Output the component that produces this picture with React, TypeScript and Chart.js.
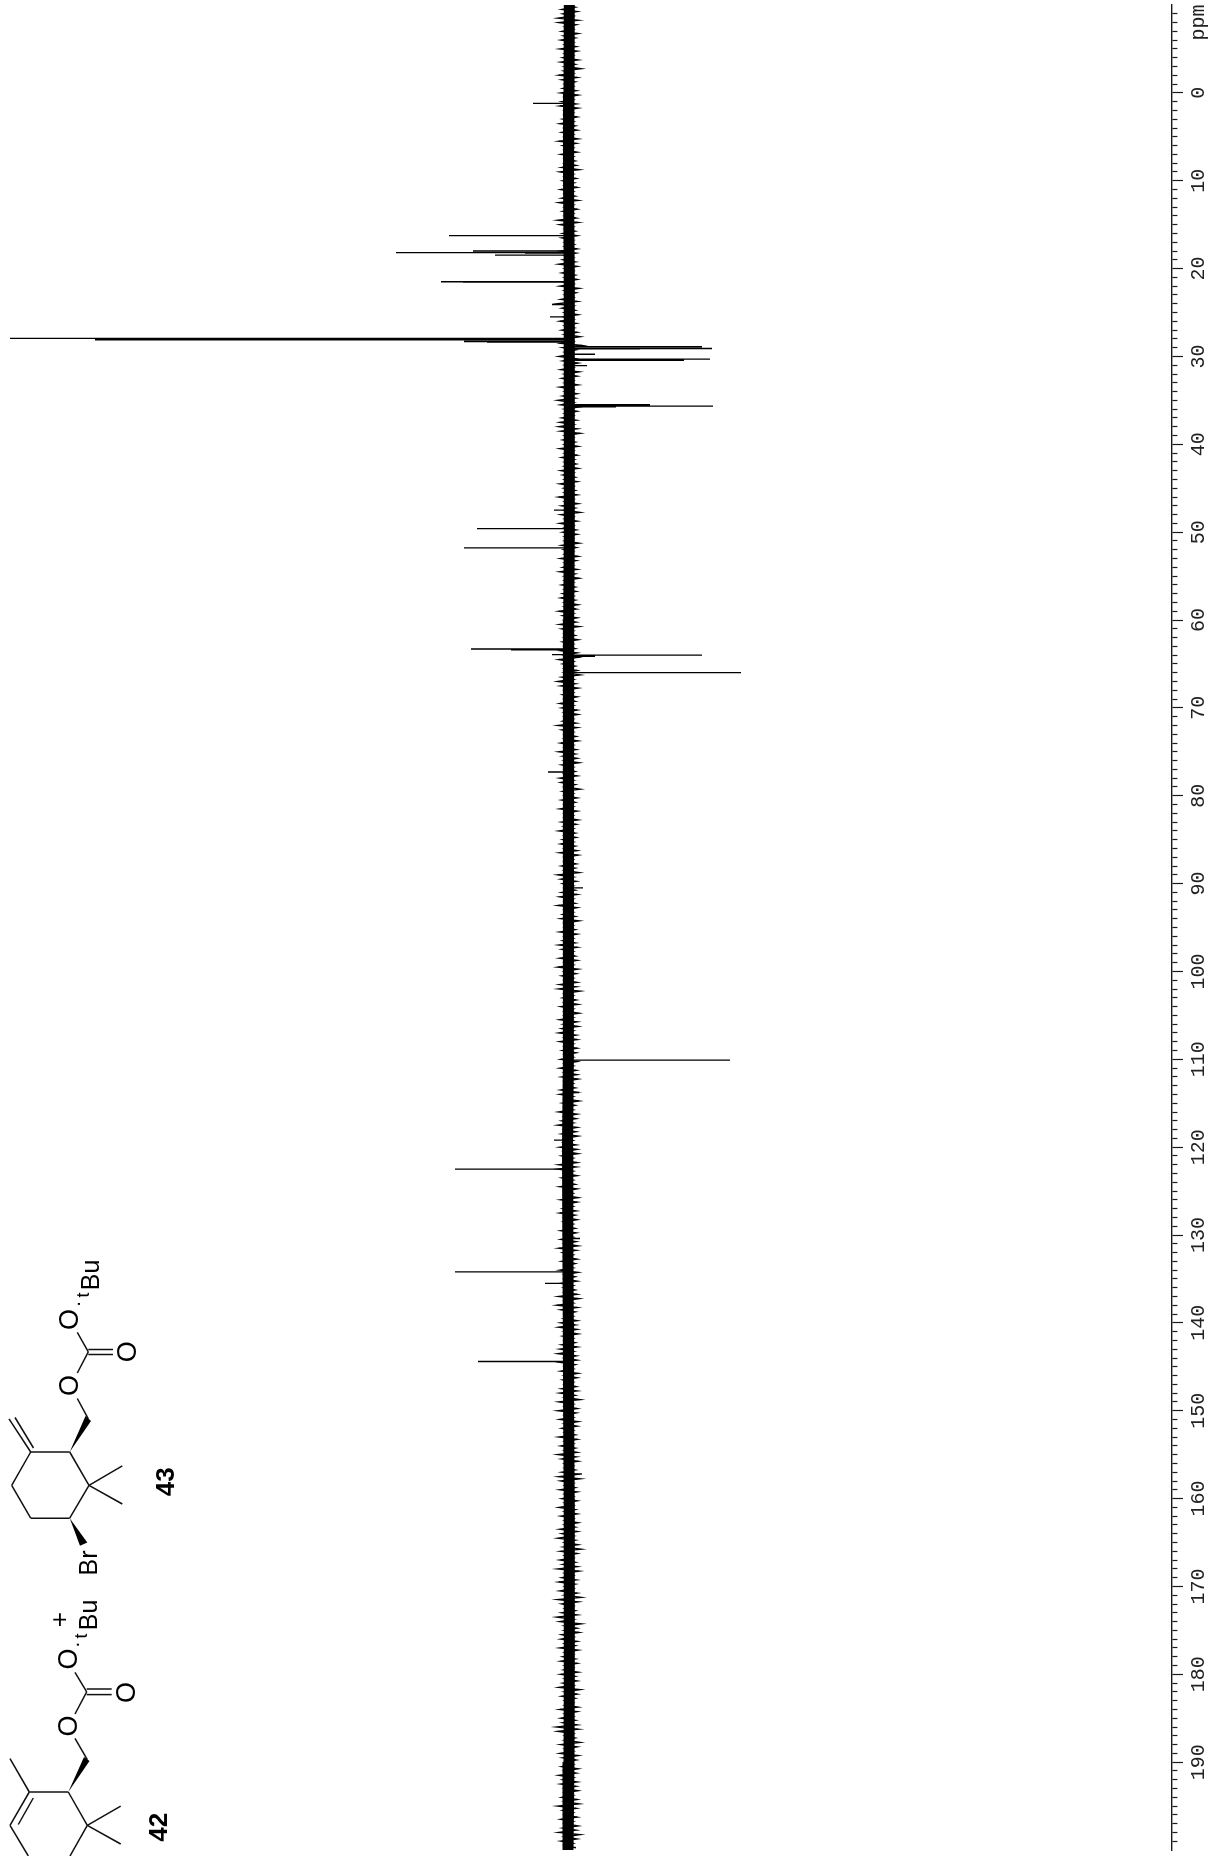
import React, { useEffect, useRef } from "react";
import { Chart, registerables } from "chart.js";

Chart.register(...registerables);

// Spectrum peaks (ppm, intensity: positive up, negative down)
const peakPpm = [1.2, 16.25, 18.0, 18.18, 18.23, 18.46, 21.5, 21.55, 24.1, 25.5, 27.95, 28.1, 28.3, 28.38, 28.9, 29.1, 29.15, 29.75, 30.3, 30.45, 31.05, 35.5, 35.65, 35.75, 47.5, 49.6, 51.8, 63.3, 63.4, 63.95, 64.0, 64.15, 66.0, 77.3, 90.5, 110.1, 113.8, 119.2, 122.5, 130.4, 134.2, 135.5, 144.4, 157.2];
const peakHeight = [35, 119, 95, 172, 43, 73, 127, 105, 16, 18, 558, 473, 104, 81, -134, -144, -72, -27, -142, -116, -19, -82, -145, -48, 14, 91, 104, 97, 57, 16, -134, -27, -173, 20, -15, -162, -11, 14, 113, -12, 113, 23, 90, -14];

// Noise envelope of the baseline, sampled every half ppm from -10 to 200 ppm
const noiseUp = [
  3,6,5,10,9,3,6,4,7,3,8,3,5,7,3,4,9,6,3,5,
  7,3,6,8,3,3,5,8,3,6,3,9,5,3,7,3,3,6,8,3,
  5,3,7,3,6,9,3,5,3,10,8,3,5,6,3,3,7,3,5,9,
  3,6,3,5,8,3,3,7,11,6,3,4,8,3,6,3,3,7,5,3,
  9,5,3,7,3,6,3,8,3,5,10,7,3,3,6,8,9,7,3,5,
  3,8,3,6,3,3,7,5,3,8,4,3,9,3,6,3,7,3,8,3,
  5,3,3,6,4,3,7,3,5,8,3,3,6,3,5,7,3,3,9,5,
  3,8,6,3,3,5,3,7,3,9,5,3,3,6,10,7,3,5,3,8,
  6,3,3,5,10,6,3,3,7,3,9,5,3,6,3,3,8,7,3,5,
  3,6,3,8,3,3,6,4,9,3,5,7,3,8,3,3,6,3,10,7,
  5,3,6,8,3,10,3,5,7,3,3,8,3,5,9,6,3,8,3,10,
  3,6,3,8,9,3,5,3,7,3,3,8,4,6,9,3,8,3,5,3,
  7,3,8,3,6,3,3,7,8,3,5,3,9,3,6,10,3,6,3,4,
  8,3,6,3,9,10,3,6,3,8,3,3,7,3,5,8,3,4,3,7,
  3,7,3,9,5,3,6,3,8,3,3,7,4,3,9,3,11,7,3,4,
  7,9,3,5,3,6,8,10,3,8,3,7,3,5,3,6,8,3,9,3,
  10,3,8,3,6,3,9,3,7,3,10,6,3,3,6,9,7,3,8,3,
  6,3,9,3,7,3,3,8,6,10,3,4,7,3,8,5,10,3,6,9,
  3,8,3,10,6,3,6,11,8,3,3,6,7,3,8,3,5,7,3,4,
  7,3,5,9,3,6,3,3,8,3,7,5,11,10,3,3,7,3,8,5,
  3,6,3,9,5,7,3,3,6,3,10,5,3,7,3,5,9,3,7,3,
];
const noiseDown = [
  7,9,5,10,8,5,10,7,5,8,9,5,10,7,13,5,9,7,5,8,
  10,5,8,10,5,9,5,7,9,5,10,8,5,9,5,7,8,11,5,8,
  6,9,5,7,10,5,9,5,8,10,5,7,9,5,6,9,8,5,7,9,
  5,7,9,5,11,8,5,9,5,7,10,5,8,6,9,12,5,14,8,5,
  7,10,5,11,9,5,10,5,9,7,5,12,9,5,8,5,9,12,5,7,
  10,5,9,6,8,10,5,7,9,5,7,9,5,10,7,12,5,9,5,8,
  9,5,11,8,5,10,8,5,9,7,11,5,7,8,5,7,10,8,5,9,
  8,11,5,7,10,5,7,9,10,5,7,9,12,5,7,10,5,9,7,5,
  9,10,5,8,9,5,8,10,5,8,7,9,11,5,7,9,5,7,12,5,
  9,7,5,9,5,10,8,5,7,8,5,7,9,10,5,8,7,11,5,8,
  5,7,9,5,7,9,5,7,11,5,7,9,5,7,9,5,7,9,5,10,
  8,5,9,8,12,5,8,10,5,11,5,9,10,5,8,9,5,9,8,5,
  9,5,8,9,10,5,7,9,5,11,7,5,9,8,5,9,8,10,5,8,
  9,10,5,9,8,5,9,5,7,9,5,10,9,5,8,7,9,5,7,8,
  5,8,10,8,5,9,7,5,10,7,9,5,7,9,11,5,9,7,5,9,
  7,9,10,5,7,9,5,8,9,7,5,10,9,5,8,9,7,12,5,9,
  8,5,10,9,5,7,9,5,7,9,8,10,5,7,9,12,5,7,9,5,
  9,5,7,9,5,10,7,9,5,7,10,13,9,5,7,9,11,5,8,7,
  5,9,13,10,5,7,9,5,13,9,11,5,9,7,10,5,7,9,5,10,
  7,9,5,12,9,7,5,10,9,5,7,9,10,5,7,12,9,5,10,8,
  5,10,8,5,9,8,10,5,9,11,8,5,9,5,10,8,12,9,5,8,
];

// Solid core of the noise band
const corePpm = [-10, 0, 10, 20, 30, 40, 50, 60, 70, 80, 90, 100, 110, 120, 130, 140, 150, 160, 170, 180, 190, 200];
const coreCentre = [-1.3, -1, -0.5, -1.2, -1.3, -1.3, -1.3, -0.7, -0.3, -0.5, -0.3, -0.5, -0.3, 0.5, 0.2, -0.3, -0.6, -1.2, -1.3, -1.3, -1, 0];

// Axis
const tickMin = -10;
const tickMax = 200;
const tickStep = 1;
const labelStep = 10;
const unitLabel = "ppm";
const unitTickValue = -8;

const peakPoints: any[] = [];
peakPpm.forEach((p, i) => {
  peakPoints.push({ x: 0, y: p }, { x: peakHeight[i], y: p }, { x: null, y: null });
});
const noisePoints: any[] = [];
noiseUp.forEach((v, i) => {
  const p = tickMin + i * 0.5;
  noisePoints.push({ x: v, y: p }, { x: -noiseDown[i], y: p + 0.25 });
});
const corePoints = corePpm.map((p, i) => ({ x: coreCentre[i], y: p }));

const INK = "#000000";
const AXIS = "#1a1a1a";

function Lines({ segs }: { segs: number[][] }) {
  return (
    <>
      {segs.map((s, i) => (
        <line key={i} x1={s[0]} y1={s[1]} x2={s[2]} y2={s[3]} stroke="#101010" strokeWidth={1.5} />
      ))}
    </>
  );
}

function Label({ x, y, t, size = 27, bold = false }: { x: number; y: number; t: string; size?: number; bold?: boolean }) {
  return (
    <text
      x={x}
      y={y}
      transform={`rotate(-90 ${x} ${y})`}
      textAnchor="middle"
      dominantBaseline="central"
      fontFamily="'Liberation Sans', Arial, sans-serif"
      fontSize={size}
      fontWeight={bold ? 700 : 400}
      fill="#000"
    >
      {t}
    </text>
  );
}

const bonds43 = [
  [30.7, 1452, 69.7, 1452], [69.7, 1452, 89, 1485.3], [89, 1485.3, 69.7, 1518.2], [69.7, 1518.2, 30.7, 1518.2],
  [30.7, 1518.2, 11.7, 1485.3], [11.7, 1485.3, 30.7, 1452], [30.7, 1452, 9, 1418.8], [33.5, 1448, 15, 1417.5],
  [89, 1485.3, 122.3, 1465.8], [89, 1485.3, 122.3, 1504], [88.3, 1418.8, 77.3, 1398.5], [77.3, 1373, 88.3, 1351.8],
  [88.3, 1351.8, 77.3, 1332.4], [88.3, 1349.5, 113, 1349.5], [88.3, 1354.5, 113, 1354.5],
];
const bonds42 = [
  [68.3, 1792, 29.3, 1792], [29.3, 1792, 10, 1758.7], [29.3, 1792, 10, 1825.3], [33.3, 1798, 18.3, 1824.5],
  [10, 1825.3, 28.3, 1856], [68.3, 1792, 87.3, 1825.3], [87.3, 1825.3, 120.7, 1806.2], [87.3, 1825.3, 120.7, 1844],
  [87.3, 1825.3, 70, 1856], [75, 1738.4, 87.3, 1759.6], [75, 1714, 86.7, 1691.8], [86.7, 1691.8, 75, 1672.3],
  [86.7, 1689, 111.7, 1689], [86.7, 1694.6, 111.7, 1694.6],
];

function Structures() {
  return (
    <svg width={220} height={1856} style={{ position: "absolute", left: 0, top: 0, pointerEvents: "none" }}>
      <Lines segs={bonds43} />
      <polygon points="69.7,1452 91,1421 85.5,1416" fill="#000" />
      <polygon points="69.7,1518.2 87.3,1542.5 80,1545.8" fill="#000" />
      <Label x={69.3} y={1385.5} t="O" />
      <Label x={69.3} y={1319.4} t="O" />
      <Label x={126.7} y={1351.8} t="O" />
      <Label x={77} y={1304} t="·" size={20} />
      <Label x={83} y={1295} t="t" size={18} />
      <Label x={90} y={1275} t="Bu" size={25} />
      <Label x={88} y={1563} t="Br" size={25} />
      <Label x={165} y={1481.7} t="43" size={26} bold />

      <Lines segs={bonds42} />
      <polygon points="68.3,1792 89.5,1761 84,1757" fill="#000" />
      <Label x={67.7} y={1726} t="O" />
      <Label x={67.7} y={1659} t="O" />
      <Label x={126} y={1692.6} t="O" />
      <Label x={76} y={1644.7} t="·" size={20} />
      <Label x={81} y={1636} t="t" size={18} />
      <Label x={88} y={1615} t="Bu" size={25} />
      <Label x={59} y={1619.6} t="+" size={26} />
      <Label x={157.7} y={1827.3} t="42" size={26} bold />
    </svg>
  );
}

export default function App() {
  const ref = useRef<HTMLCanvasElement | null>(null);
  useEffect(() => {
    const chart = new Chart(ref.current as HTMLCanvasElement, {
      type: "scatter",
      data: {
        datasets: [
          { label: "core", data: corePoints, showLine: true, borderColor: INK, borderWidth: 11, pointRadius: 0, tension: 0 },
          { label: "noise", data: noisePoints, showLine: true, borderColor: INK, borderWidth: 1.4, pointRadius: 0, tension: 0 },
          { label: "peaks", data: peakPoints, showLine: true, spanGaps: false, borderColor: INK, borderWidth: 1.3, pointRadius: 0, tension: 0 },
        ],
      } as any,
      options: {
        animation: false,
        responsive: false,
        devicePixelRatio: 1,
        layout: { padding: { top: 5, bottom: 6, left: 0, right: 0 } },
        plugins: { legend: { display: false }, tooltip: { enabled: false }, title: { display: false } },
        elements: { line: { capBezierPoints: false, borderJoinStyle: "miter" } },
        scales: {
          x: { type: "linear", display: false, reverse: true, min: -604, max: 568 },
          y: {
            type: "linear",
            position: "right",
            reverse: true,
            min: tickMin,
            max: tickMax,
            afterFit: (s: any) => {
              s.width = 40;
              s.paddingTop = 0;
              s.paddingBottom = 0;
            },
            border: { display: true, color: AXIS, width: 1.4 },
            grid: {
              drawOnChartArea: false,
              drawTicks: true,
              tickLength: 11,
              tickWidth: 1.2,
              tickColor: (ctx: any) => {
                const v = ctx.tick.value;
                return v === tickMin || v === tickMax ? "rgba(0,0,0,0)" : AXIS;
              },
              tickBorderDash: (ctx: any) => (ctx.tick.value % labelStep === 0 ? [] : [5, 40]),
            },
            ticks: {
              stepSize: tickStep,
              autoSkip: false,
              minRotation: 90,
              maxRotation: 90,
              padding: -2,
              crossAlign: "center",
              color: "#222222",
              font: { family: "'Liberation Mono', 'DejaVu Sans Mono', monospace", size: 20, weight: "normal" },
              callback: (v: any) => {
                if (v === unitTickValue) return unitLabel;
                if (v === tickMin || v === tickMax) return "";
                return v % labelStep === 0 ? String(v) : "";
              },
            },
          },
        },
      } as any,
    });
    return () => chart.destroy();
  }, []);
  return (
    <div style={{ position: "absolute", left: 0, top: 0, width: 1212, height: 1856, overflow: "hidden", background: "#fff" }}>
      <canvas ref={ref} width={1212} height={1856} style={{ display: "block" }} />
      <Structures />
    </div>
  );
}
